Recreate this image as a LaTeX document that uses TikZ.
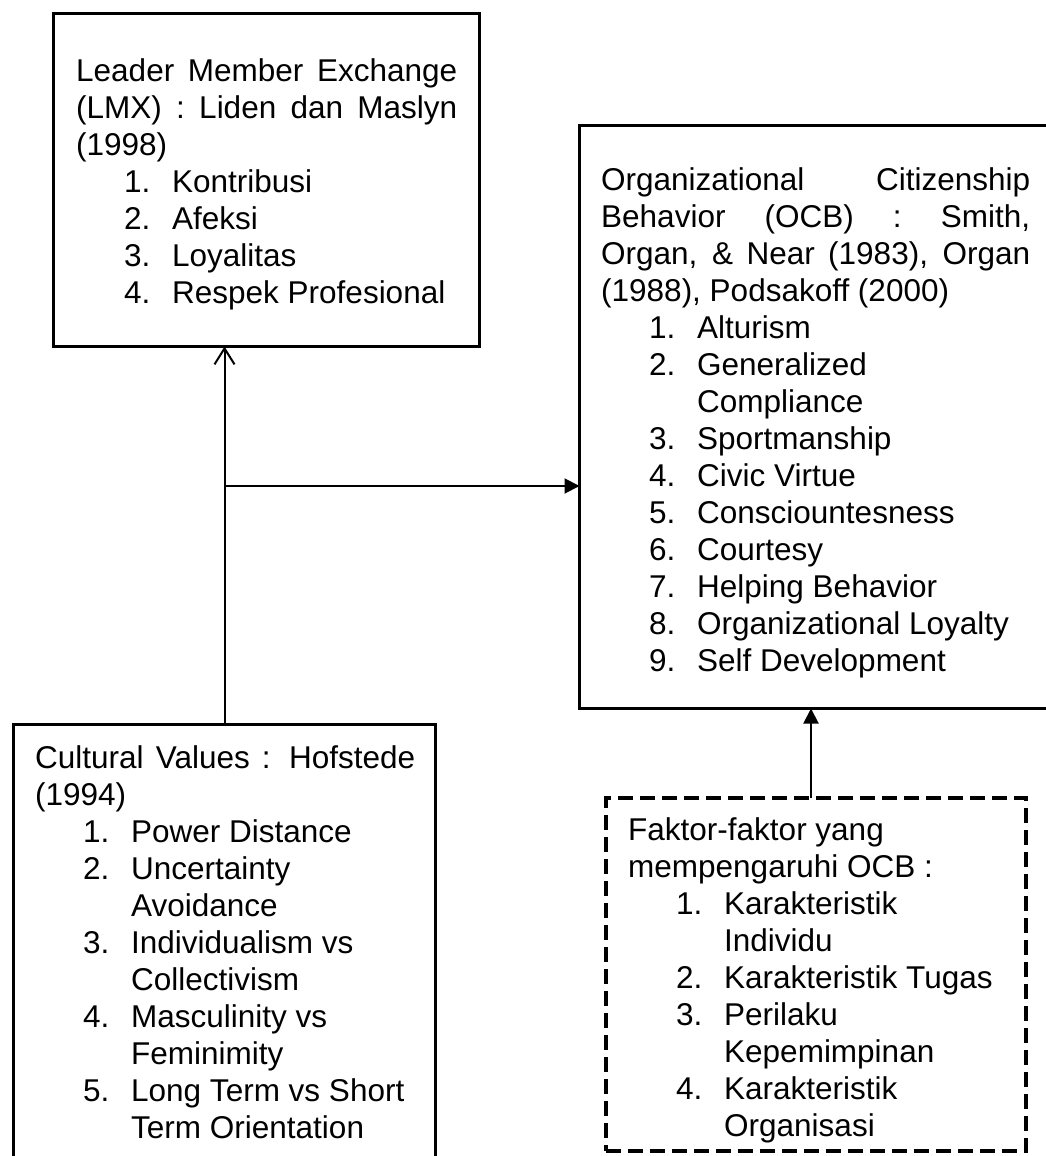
\documentclass[tikz,border=0pt]{standalone}
\usepackage{fontspec}
\setmainfont{Liberation Sans}
\usetikzlibrary{arrows.meta,positioning}
\newcommand{\numitem}[2]{\hspace*{48pt}\makebox[48pt][l]{#1.}#2}
\newcommand{\contitem}[1]{\hspace*{96pt}#1}

\begin{document}
\begin{tikzpicture}[x=1pt, y=-1pt,
    box/.style={draw, line width=3pt, anchor=north west, inner sep=0pt, outer sep=0pt},
    dbox/.style={box, line width=4.5pt, dash pattern=on 15pt off 7pt},
    txt/.style={anchor=north west, inner sep=0pt, align=justify,
                font=\fontsize{31.5}{37}\selectfont},
    openarr/.style={-{Straight Barb[length=16pt,width=20pt]}, line width=2pt},
    fillarr/.style={-{Triangle[length=15pt,width=15pt]}, line width=2pt}
  ]
  \useasboundingbox (0,0) rectangle (1046,1156);
  % Boxes
  \node[box, minimum width=426pt, minimum height=333pt] (lmx) at (53.5,13.5) {};
  \node[box, minimum width=480pt, minimum height=583pt] (ocb) at (579.5,125.5) {};
  \node[box, minimum width=422pt, minimum height=446pt] (cult) at (13.5,724.5) {};
  \node[dbox, minimum width=420pt, minimum height=353pt] (faktor) at (606,798) {};
  % Texts
  \node[txt, text width=381pt] (lmxtext) at (76,58) {\noindent
    Leader Member Exchange\linebreak (LMX) : Liden dan Maslyn\linebreak
    (1998)\\
    \numitem{1}{Kontribusi}\\
    \numitem{2}{Afeksi}\\
    \numitem{3}{Loyalitas}\\
    \numitem{4}{Respek Profesional}};
  \node[txt, text width=429pt] (ocbtext) at (601,167) {\noindent
    Organizational Citizenship\linebreak Behavior (OCB) : Smith,\linebreak
    Organ, \& Near (1983), Organ\linebreak
    (1988), Podsakoff (2000)\\
    \numitem{1}{Alturism}\\
    \numitem{2}{Generalized}\\
    \contitem{Compliance}\\
    \numitem{3}{Sportmanship}\\
    \numitem{4}{Civic Virtue}\\
    \numitem{5}{Consciountesness}\\
    \numitem{6}{Courtesy}\\
    \numitem{7}{Helping Behavior}\\
    \numitem{8}{Organizational Loyalty}\\
    \numitem{9}{Self Development}};
  \node[txt, text width=380pt] (culttext) at (35,745) {\noindent
    Cultural Values : Hofstede\linebreak
    (1994)\\
    \numitem{1}{Power Distance}\\
    \numitem{2}{Uncertainty}\\
    \contitem{Avoidance}\\
    \numitem{3}{Individualism vs}\\
    \contitem{Collectivism}\\
    \numitem{4}{Masculinity vs}\\
    \contitem{Feminimity}\\
    \numitem{5}{Long Term vs Short}\\
    \contitem{Term Orientation}};
  \node[txt, text width=380pt] (faktortext) at (628,817) {\noindent
    Faktor-faktor yang\\
    mempengaruhi OCB :\\
    \numitem{1}{Karakteristik}\\
    \contitem{Individu}\\
    \numitem{2}{Karakteristik Tugas}\\
    \numitem{3}{Perilaku}\\
    \contitem{Kepemimpinan}\\
    \numitem{4}{Karakteristik}\\
    \contitem{Organisasi}};
  % Connectors
  \coordinate (junc) at (224.5,486);
  \coordinate (ftop) at ([xshift=-5pt]faktor.north);
  \draw[openarr] (cult.north) -- (cult.north |- lmx.south);
  \draw[fillarr] (junc) -- (junc -| ocb.west);
  \draw[fillarr] (ftop) -- (ftop |- ocb.south);
\end{tikzpicture}
\end{document}
